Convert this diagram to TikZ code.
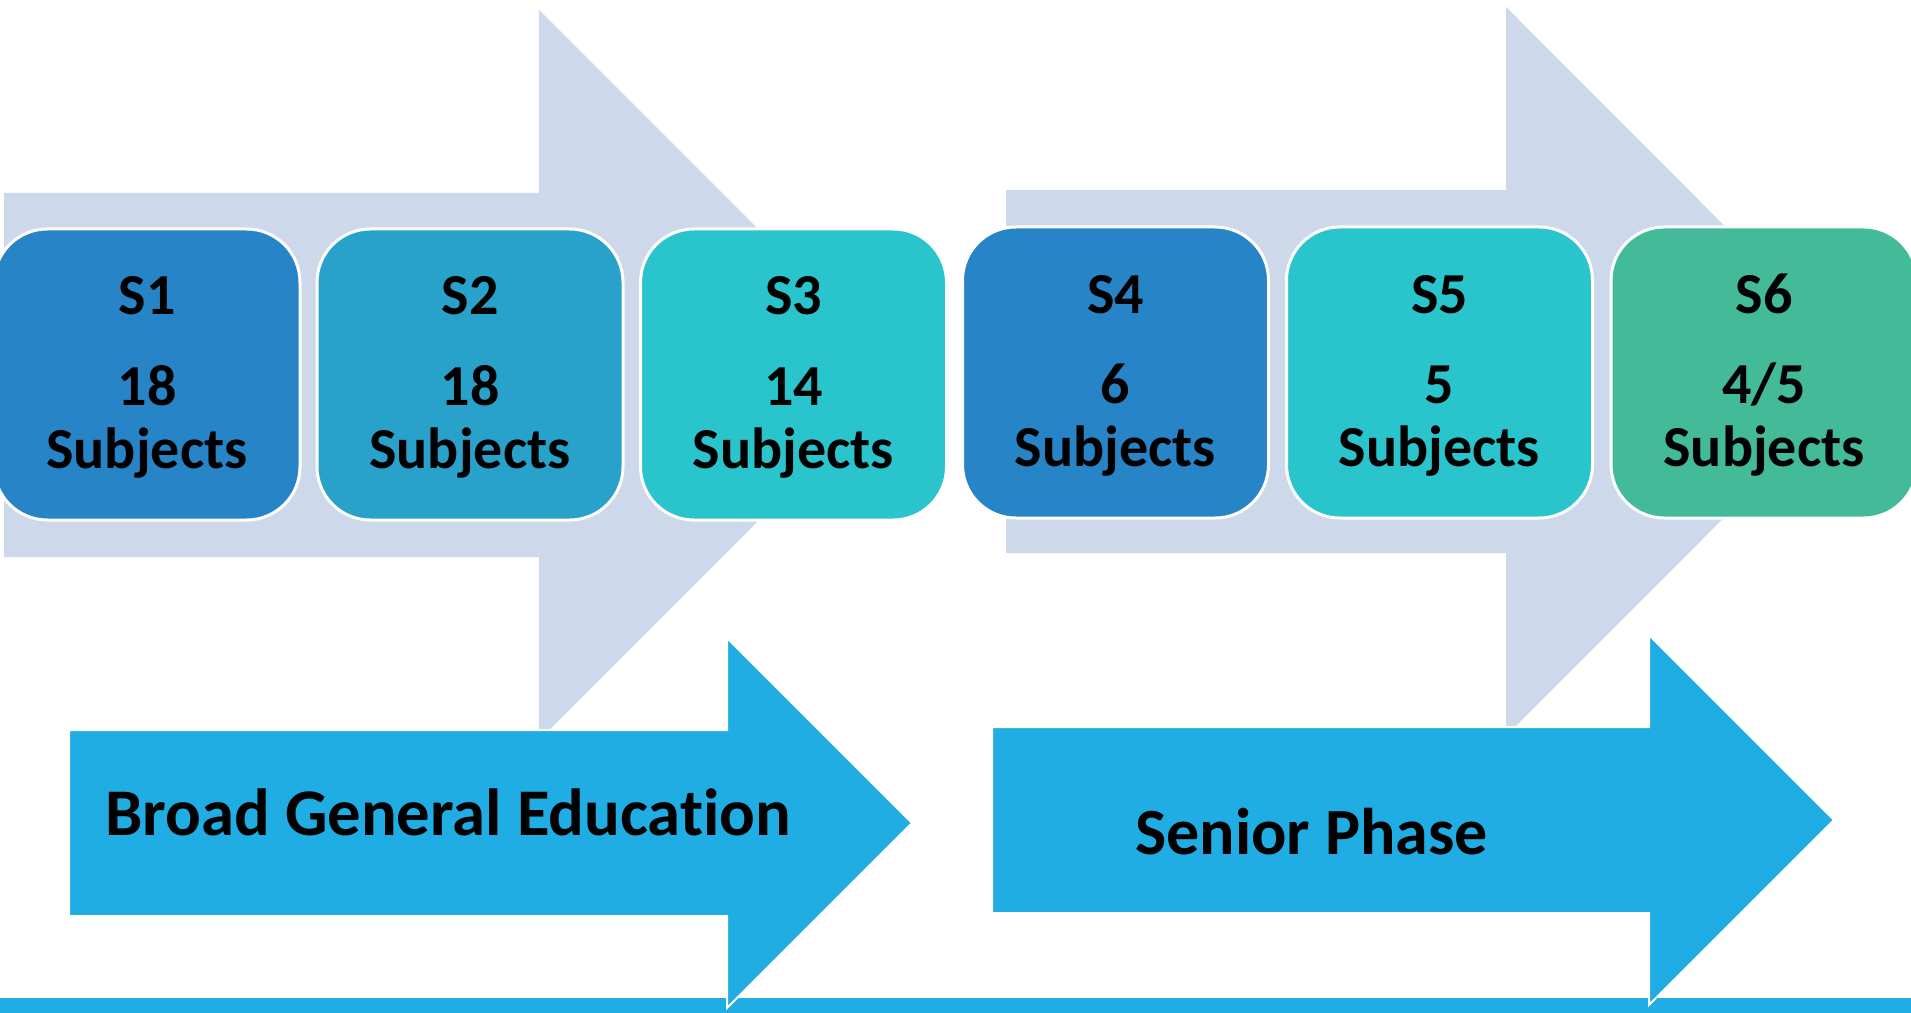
\documentclass[tikz,border=0pt]{standalone}
\usepackage{fontspec}
\setmainfont{Carlito}[Ligatures=NoCommon]
\definecolor{pale}{HTML}{CDD8EA}
\definecolor{cdeep}{HTML}{2784C6}
\definecolor{cmid}{HTML}{28A2CA}
\definecolor{cteal}{HTML}{29C4CC}
\definecolor{cgreen}{HTML}{43BA98}
\definecolor{cblue}{HTML}{1FADE4}
\newcommand\stagebox[7]{% name, xcenter, ytop, color, l1, l2, l3
  \node[stagebox, fill=#4, anchor=north] (#1) at (#2,#3) {};
  \node[boxtext] (#1a) at ([yshift=-64.5pt]#1.north) {#5};
  \node[boxtext] (#1b) at ([yshift=-132pt]#1.north) {#6};
  \node[boxtext] (#1c) at ([yshift=-179.25pt]#1.north) {#7};
}
\begin{document}
\begin{tikzpicture}[x=0.75pt,y=-0.75pt,
  stagebox/.style={draw=white, line width=2.25pt, rounded corners=40pt,
    inner sep=0pt, outer sep=0pt, minimum width=229.5pt, minimum height=218.25pt},
  boxtext/.style={anchor=base, inner sep=0pt, font=\fontsize{43.5}{48}\selectfont\bfseries},
  bigarrow/.style={fill=cblue, draw=white, line width=1.5pt},
  palearrow/.style={fill=pale},
  phasetext/.style={anchor=base west, inner sep=0pt, font=\fontsize{50}{56}\selectfont\bfseries}]
\useasboundingbox (0,0) rectangle (1911,1013);
\clip (0,0) rectangle (1911,1013);
% pale background arrows
\fill[palearrow] (4,193) -- (539,193) -- (539,10) -- (904,375) -- (539,740) -- (539,557) -- (4,557) -- cycle;
\fill[palearrow] (1006,190) -- (1506,190) -- (1506,7) -- (1870,371.5) -- (1506,736) -- (1506,553) -- (1006,553) -- cycle;
% stage boxes
\stagebox{s1}{147}{229}{cdeep}{S1}{18}{Subjects}
\stagebox{s2}{470}{229}{cmid}{S2}{18}{Subjects}
\stagebox{s3}{793.5}{229}{cteal}{S3}{14}{Subjects}
\stagebox{s4}{1115.5}{227}{cdeep}{S4}{6}{Subjects}
\stagebox{s5}{1439.5}{227}{cteal}{S5}{5}{Subjects}
\stagebox{s6}{1764}{227}{cgreen}{S6}{4/5}{Subjects}
% bottom bar
\fill[cblue] (0,998) rectangle (1911,1014);
% phase arrows
\filldraw[bigarrow] (69,730) -- (727,730) -- (727,638) -- (912,823) -- (727,1008) -- (727,916) -- (69,916) -- cycle;
\filldraw[bigarrow] (992,727) -- (1649,727) -- (1649,635) -- (1834,820) -- (1649,1005) -- (1649,913) -- (992,913) -- cycle;
\node[phasetext] (bge) at (105,835) {Broad General Education};
\node[phasetext, font=\fontsize{49.5}{56}\selectfont\bfseries] (sp) at (1135,854) {Senior Phase};
\end{tikzpicture}
\end{document}
